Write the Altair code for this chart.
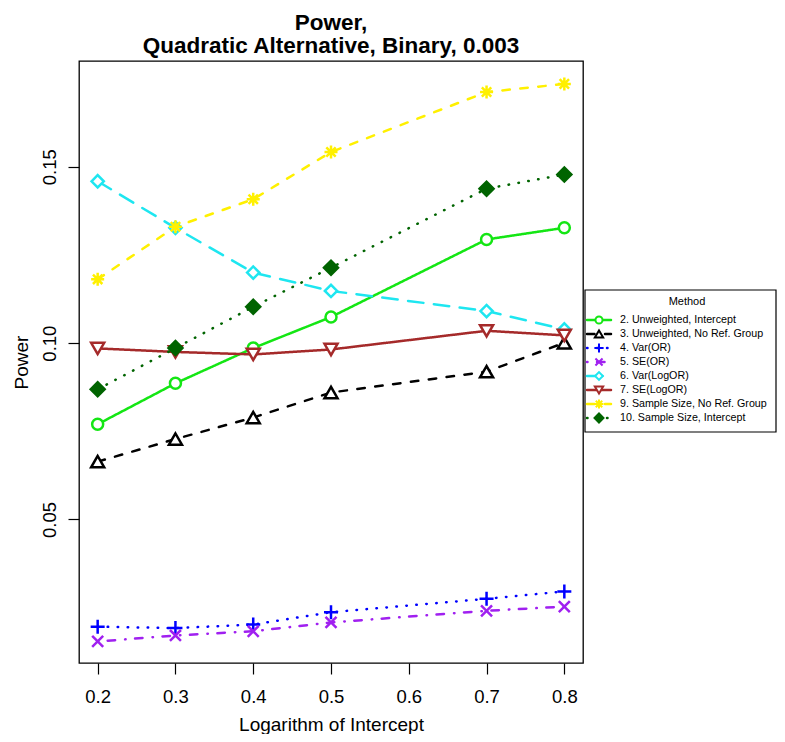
import altair as alt
import pandas as pd

# ---------------- data ----------------
log_intercept = [0.2, 0.3, 0.4, 0.5, 0.7, 0.8]
methods = [
    "2. Unweighted, Intercept",
    "3. Unweighted, No Ref. Group",
    "4. Var(OR)",
    "5. SE(OR)",
    "6. Var(LogOR)",
    "7. SE(LogOR)",
    "9. Sample Size, No Ref. Group",
    "10. Sample Size, Intercept",
]
power_unweighted_intercept = [0.0770, 0.0886, 0.0986, 0.1074, 0.1294, 0.1327]
power_unweighted_noref = [0.0664, 0.0728, 0.0789, 0.0860, 0.0919, 0.1001]
power_var_or = [0.0196, 0.0192, 0.0202, 0.0237, 0.0275, 0.0296]
power_se_or = [0.0154, 0.0171, 0.0183, 0.0208, 0.0241, 0.0253]
power_var_logor = [0.1459, 0.1327, 0.1200, 0.1148, 0.1091, 0.1039]
power_se_logor = [0.0985, 0.0975, 0.0968, 0.0982, 0.1035, 0.1022]
power_ss_noref = [0.1181, 0.1330, 0.1408, 0.1542, 0.1712, 0.1735]
power_ss_intercept = [0.0869, 0.0986, 0.1103, 0.1214, 0.1438, 0.1478]

x_ticks = [0.2, 0.3, 0.4, 0.5, 0.6, 0.7, 0.8]
y_ticks = [0.05, 0.10, 0.15]

series = [
    power_unweighted_intercept,
    power_unweighted_noref,
    power_var_or,
    power_se_or,
    power_var_logor,
    power_se_logor,
    power_ss_noref,
    power_ss_intercept,
]

# ---------------- styles ----------------
PLUS = "M-1,0L1,0M0,-1L0,1"
CROSS = "M-0.75,-0.75L0.75,0.75M-0.75,0.75L0.75,-0.75"
ASTER = "M-1,0L1,0M0,-1L0,1M-0.72,-0.72L0.72,0.72M-0.72,0.72L0.72,-0.72"
colors = ["#14E614", "#000000", "#0000FF", "#A020F0", "#1EE6F0", "#A52A2A", "#FFF000", "#006400"]
fills = ["white", "white", "white", "white", "white", "white", "white", "#006400"]
dashes = [[1, 0], [7.5, 10.5], [0.5, 9.5], [0.5, 9.5, 7.5, 10], [15.5, 10.5], [1, 0], [7.5, 10.5], [0.5, 9.5]]
shapes = ["circle", "triangle-up", PLUS, CROSS, "diamond", "triangle-down", ASTER, "diamond"]
sizes = [121, 170, 196, 215, 150, 170, 170, 196]
legend_sizes = [50, 70, 85, 90, 60, 70, 80, 80]

FONT = "Liberation Sans"

rows = []
for m, vals in zip(methods, series):
    for xv, pv in zip(log_intercept, vals):
        rows.append({"method": m, "x": xv, "power": pv})
df = pd.DataFrame(rows)
leg = pd.DataFrame({"method": methods, "idx": list(range(len(methods)))})
box = pd.DataFrame({"t": ["Method"]})

xs = alt.Scale(domain=[0.176, 0.824], nice=False, zero=False)
ys = alt.Scale(domain=[0.0093, 0.1800], nice=False, zero=False)
color_s = alt.Scale(domain=methods, range=colors)
dash_s = alt.Scale(domain=methods, range=dashes)
shape_s = alt.Scale(domain=methods, range=shapes)
fill_s = alt.Scale(domain=methods, range=fills)

x_axis = alt.Axis(
    values=x_ticks, format=".1f", tickSize=11, tickWidth=1.2, tickColor="black",
    domain=False, grid=False, labelFontSize=18.5, labelColor="black",
    labelPadding=13, labelBaseline="top", labelFlush=False,
    title="Logarithm of Intercept", titleFontSize=19, titleFontWeight="normal",
    titleColor="black", titleX=252, titleY=67, titleBaseline="alphabetic",
    titleAlign="center",
)
y_axis = alt.Axis(
    values=y_ticks, format=".2f", tickSize=11, tickWidth=1.2, tickColor="black",
    domain=False, grid=False, labelFontSize=18.5, labelColor="black",
    labelAngle=270, labelAlign="center", labelBaseline="alphabetic",
    labelPadding=13, labelFlush=False,
    title="Power", titleFontSize=19, titleFontWeight="normal", titleColor="black",
    titleAngle=270, titleX=-52, titleY=301, titleAlign="center",
    titleBaseline="alphabetic",
)

base = alt.Chart(df)
lines = base.mark_line(strokeWidth=2.5, strokeCap="round").encode(
    x=alt.X("x:Q", scale=xs, axis=x_axis),
    y=alt.Y("power:Q", scale=ys, axis=y_axis),
    color=alt.Color("method:N", scale=color_s, legend=None),
    strokeDash=alt.StrokeDash("method:N", scale=dash_s, legend=None),
)
points = base.mark_point(strokeWidth=2.5, opacity=1, fillOpacity=1).encode(
    x=alt.X("x:Q", scale=xs),
    y=alt.Y("power:Q", scale=ys),
    stroke=alt.Stroke("method:N", scale=color_s, legend=None),
    fill=alt.Fill("method:N", scale=fill_s, legend=None),
    shape=alt.Shape("method:N", scale=shape_s, legend=None),
    size=alt.Size("method:N", scale=alt.Scale(type="ordinal", domain=methods, range=sizes), legend=None),
)
main = alt.layer(lines, points)

# ---------------- legend panel ----------------
ly = alt.Y("idx:Q", scale=alt.Scale(domain=[0, 7], range=[259, 357]), axis=None)
leg_box = alt.Chart(box).mark_rect(fill="white", stroke="black", strokeWidth=1.2).encode(
    x=alt.value(506), x2=alt.value(697), y=alt.value(229), y2=alt.value(371)
)
leg_title = alt.Chart(box).mark_text(fontSize=11, font=FONT, color="black", align="center", baseline="middle").encode(
    x=alt.value(608), y=alt.value(241), text="t:N"
)
leg_lines = alt.Chart(leg).mark_rule(strokeWidth=2.5, strokeCap="round").encode(
    x=alt.value(508), x2=alt.value(532), y=ly,
    color=alt.Color("method:N", scale=color_s, legend=None),
    strokeDash=alt.StrokeDash("method:N", scale=dash_s, legend=None),
)
leg_points = alt.Chart(leg).mark_point(strokeWidth=2, opacity=1, fillOpacity=1).encode(
    x=alt.value(520), y=ly,
    stroke=alt.Stroke("method:N", scale=color_s, legend=None),
    fill=alt.Fill("method:N", scale=fill_s, legend=None),
    shape=alt.Shape("method:N", scale=shape_s, legend=None),
    size=alt.Size("method:N", scale=alt.Scale(type="ordinal", domain=methods, range=legend_sizes), legend=None),
)
leg_text = alt.Chart(leg).mark_text(fontSize=10.7, font=FONT, color="black", align="left", baseline="middle").encode(
    x=alt.value(541), y=ly, text="method:N"
)
legend = alt.layer(leg_box, leg_title, leg_lines, leg_points, leg_text)

chart = (
    alt.layer(main, legend)
    .resolve_scale(y="independent", size="independent")
    .properties(
        width=504,
        height=602,
        title=alt.TitleParams(
            text=["Power,", "Quadratic Alternative, Binary, 0.003"],
            fontSize=22.5, fontWeight="bold", font=FONT, color="black",
            anchor="middle", frame="group", offset=4, lineHeight=23,
        ),
        autosize=alt.AutoSizeParams(type="none"),
        padding={"left": 71, "top": 53, "right": 194, "bottom": 71},
    )
    .configure(font=FONT)
    .configure_view(stroke="black", strokeWidth=1.3)
    .configure_axis(grid=False, labelFont=FONT, titleFont=FONT)
)

chart.save("out.html", embed_options={"renderer": "svg", "actions": False})
